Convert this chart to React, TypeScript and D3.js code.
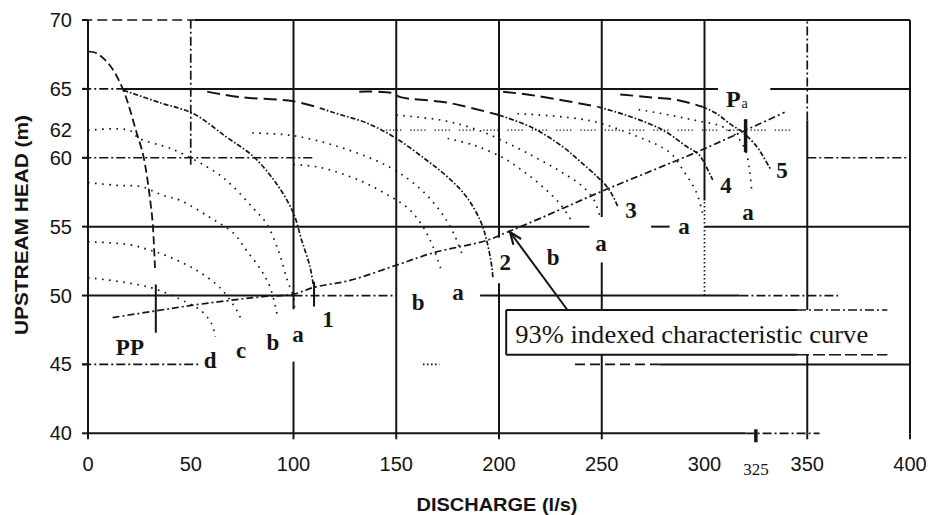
import React from "react";
import * as d3 from "d3";

// ---------- data (discharge l/s, head m) ----------
const xTickValues = [0, 50, 100, 150, 200, 250, 300, 350, 400];
const yTickValues = [40, 45, 50, 55, 60, 62, 65, 70];
const yTickLabels = ["40", "45", "50", "55", "60", "62", "65", "70"];

// main pump characteristic curves (upper long-dashed part, lower dash-dot part)
const curveSteep = [[0.5, 67.7], [4, 67.6], [10.7, 66.7], [17.2, 64.9], [23.7, 61.8], [27, 60.1], [31, 56], [31.8, 54.5], [32.6, 52]];
const curve1 = [[17.2, 64.9], [35, 64], [51.3, 63.2], [67.4, 61.5], [80.4, 60.1], [91.8, 58.1], [99.9, 56], [104, 54], [108, 52.1], [109.6, 50.8]];
const curve2Top = [[58, 64.8], [74, 64.4], [100, 64.1], [113, 63.6]];
const curve2 = [[113, 63.6], [119, 63.3], [136, 62.5], [150, 61.4], [165, 59.8], [175, 58.6], [184, 57.2], [191, 55.4], [194, 54], [196.5, 52.1], [197, 51.3]];
const curve3Top = [[132, 64.8], [148, 64.7], [152, 64.4], [175, 64], [200, 63.1]];
const curve3 = [[200, 63.1], [216, 62.2], [231, 60.8], [239, 59.8], [248, 58.6], [252.5, 57.9], [255.5, 57.2], [258, 56.4]];
const curve4Top = [[202, 64.8], [218, 64.5], [248, 63.7]];
const curve4 = [[248, 63.7], [263.7, 63], [279.8, 62], [291.5, 60.8], [296.8, 60.3], [299.3, 59.8], [302, 59], [304, 58.4]];
const curve5Top = [[259, 64.6], [273, 64.4], [286.6, 64.2], [299, 63.7]];
const curve5 = [[299, 63.7], [306, 63.2], [312, 62.5], [319, 61.8], [325.5, 60.8], [328.5, 60.1], [332, 59.2]];

// throttled (dotted) curves
const curve1a = [[0, 62], [20, 62], [25, 61.4], [41.5, 60.6], [62.6, 58.9], [70, 58], [80, 56.4], [87, 55.2], [93, 53.1], [97, 51.1], [100, 49.9], [100.5, 48.8]];
const curve1b = [[0, 58.2], [14, 58], [26, 57.9], [36, 57.3], [45, 56.9], [59, 55.7], [71, 54.5], [77, 53.3], [84, 51.9], [88.6, 50.6], [92.5, 48.3]];
const curve1c = [[0, 53.9], [20, 53.7], [30, 53.3], [38, 52.9], [52, 51.9], [64, 50.6], [72.5, 48.9], [75, 48.1]];
const curve1d = [[0, 51.3], [30, 50.6], [48, 49.5], [55, 48.9], [60, 48], [62, 47]];
const curve2a = [[80, 61.8], [100, 61.6], [124, 60.7], [147, 59.3], [162, 57.7], [172, 56], [178, 54.5], [182.5, 52.8]];
const curve2b = [[100, 59.5], [113, 59.3], [133, 58.3], [147, 57.2], [156, 56.3], [163, 55], [168, 53.5], [172, 51.8]];
const curve3a = [[150, 63.1], [173, 62.7], [190, 62], [205, 61], [218, 60], [230, 59], [240, 58], [246, 57], [249, 55.8]];
const curve3b = [[175, 61.4], [188, 60.9], [202, 60], [212, 59], [222, 57.8], [230, 56.6], [235, 55.5]];
const curve4a = [[209, 63.2], [244, 62.7], [268, 61.5], [283, 60.4], [290, 59], [296, 57.5], [299, 56]];
const curve5a = [[268, 63.5], [283, 63.1], [296, 62.7], [308, 62.3], [316, 61.5], [320, 60.5], [322, 59], [323, 57.5]];

// 93% indexed system characteristic
const systemCurve = [[12, 48.4], [33.5, 48.9], [51, 49.3], [83.7, 49.9], [100, 50.1], [110, 50.6], [127.5, 51.1], [150, 52.2], [168, 53.1], [194, 54], [204, 54.6], [220, 55.6], [249, 57.5], [296, 60.4], [320, 62], [339, 63.3]];

// gridline pieces: vertical [x, h1, h2, kind], horizontal [h, x1, x2, kind]
const vGrid = [
  [0, 40, 70, "solid"], [50, 59.5, 70, "dashdot"],
  [100, 49, 70, "solid"], [100, 40, 45.2, "solid"],
  [150, 40, 70, "solid"],
  [200, 54.2, 70, "solid"], [200, 40, 50.9, "solid"],
  [250, 55.7, 70, "solid"], [250, 40, 52.4, "solid"],
  [300, 56.9, 70, "solid"], [300, 50, 56.9, "dotted"],
  [350, 62.7, 70, "dashdot"], [350, 40, 62.7, "solid"],
  [400, 40, 70, "solid"],
];
const hGrid = [
  [70, -2.8, 52, "dash"], [70, 52, 400, "solid"],
  [65, -2.8, 17, "dashdot"], [65, 17, 306.6, "solid"], [65, 332, 400, "solid"],
  [62, 145, 343, "fine"],
  [60, -2.8, 110, "dashdot"], [60, 350, 400, "dashdot"],
  [55, 0, 244, "solid"], [55, 274, 283, "solid"], [55, 300, 400, "solid"],
  [50, 0, 100, "solid"], [50, 100, 150, "dashdot"], [50, 190.8, 317, "solid"], [50, 317, 365, "dashdot"],
  [45, -2.8, 55, "dashdot"], [45, 163, 171, "dotted"], [45, 237, 278, "dash"], [45, 278, 400, "solid"],
  [40, 0, 320, "solid"], [40, 320, 356, "dashdot"],
];
// small vertical marks on curves [x, h1, h2]
const curveTicks = [[33, 47.3, 50.8], [110, 49.2, 51], [320, 60.4, 62.8]];

const curveLabels = [
  ["PP", 20.4, 45.7], ["d", 59.4, 44.75], ["c", 74.5, 45.5], ["b", 90, 46.05], ["a", 102.2, 46.6], ["1", 116.8, 47.7],
  ["b", 160.6, 48.95], ["a", 180, 49.7], ["2", 203, 51.85], ["b", 226.3, 52.2], ["a", 249.6, 53.2], ["3", 264.2, 55.6],
  ["a", 290, 54.5], ["4", 310.5, 57.45], ["a", 321.2, 55.5], ["5", 337.7, 58.5],
];
const boxText = "93% indexed characteristic curve";
const boxX = [203.5, 389];
const boxH = [45.7, 48.95];
const arrowFrom = [233.3, 48.95];
const arrowTo = [205.4, 54.6];

const W = 930, H = 515;
const x = d3.scaleLinear().domain([0, 400]).range([88, 910]);
const y = d3.scaleLinear().domain([40, 70]).range([433.3, 20]);
const line = d3.line<number[]>().x((d) => x(d[0])).y((d) => y(d[1])).curve(d3.curveCatmullRom.alpha(0.5));

const INK = "#141414";
const SANS = "'Liberation Sans', Arial, sans-serif";
const SERIF = "'Liberation Serif', 'Times New Roman', serif";

const gridStyle: Record<string, any> = {
  solid: { strokeWidth: 2 },
  dashdot: { strokeWidth: 1.7, strokeDasharray: "9,3,2,3" },
  dash: { strokeWidth: 1.7, strokeDasharray: "10,5" },
  dotted: { strokeWidth: 1.7, strokeDasharray: "1.6,2.4" },
  fine: { strokeWidth: 1.3, strokeDasharray: "1.3,2.2,1.3,2.2,1.3,2.2,1.3,2.2,1.3,9" },
};

export default function App() {
  const mainStyle = { fill: "none", stroke: INK, strokeWidth: 1.7, strokeDasharray: "5,2,1.6,2" };
  const topStyle = { fill: "none", stroke: INK, strokeWidth: 2, strokeDasharray: "13,6" };
  const dotStyle = { fill: "none", stroke: INK, strokeWidth: 1.7, strokeDasharray: "1.6,5.5" };
  const dotted = [curve1a, curve1b, curve1c, curve1d, curve2a, curve2b, curve3a, curve3b, curve4a, curve5a];
  const mains = [curve1, curve2, curve3, curve4, curve5];
  const tops = [curve2Top, curve3Top, curve4Top, curve5Top];
  const ax = x(arrowFrom[0]), ay = y(arrowFrom[1]), bx = x(arrowTo[0]), by = y(arrowTo[1]);
  const ang = Math.atan2(by - ay, bx - ax);
  const ah = 13, aw = 0.38;
  const head = [
    [bx - ah * Math.cos(ang - aw), by - ah * Math.sin(ang - aw)],
    [bx, by],
    [bx - ah * Math.cos(ang + aw), by - ah * Math.sin(ang + aw)],
  ];
  return (
    <svg width={W} height={H} style={{ position: "fixed", left: 0, top: 0, display: "block", background: "#fff" }}>
      <rect width={W} height={H} fill="#fff" />
      {/* grid */}
      {vGrid.map((g, i) => (
        <line key={"v" + i} x1={x(g[0] as number)} x2={x(g[0] as number)} y1={y(g[1] as number)} y2={y(g[2] as number)} stroke={INK} {...gridStyle[g[3] as string]} />
      ))}
      {hGrid.map((g, i) => (
        <line key={"h" + i} y1={y(g[0] as number)} y2={y(g[0] as number)} x1={x(g[1] as number)} x2={x(g[2] as number)} stroke={INK} {...gridStyle[g[3] as string]} />
      ))}
      {/* axis ticks */}
      {yTickValues.filter((v) => v !== 62).map((v) => (
        <line key={"yt" + v} x1={x(0) - 6} x2={x(0)} y1={y(v)} y2={y(v)} stroke={INK} strokeWidth={2} />
      ))}
      {xTickValues.filter((v) => v !== 50 && v !== 300).map((v) => (
        <line key={"xt" + v} x1={x(v)} x2={x(v)} y1={y(40)} y2={y(40) + 6} stroke={INK} strokeWidth={2} />
      ))}
      <line x1={x(325)} x2={x(325)} y1={y(40) - 4} y2={y(40) + 9} stroke={INK} strokeWidth={3.5} />
      {/* curves */}
      {dotted.map((c, i) => <path key={"d" + i} d={line(c) || ""} {...dotStyle} />)}
      <path d={line(curveSteep) || ""} fill="none" stroke={INK} strokeWidth={1.8} strokeDasharray="8,4" />
      {mains.map((c, i) => <path key={"m" + i} d={line(c) || ""} {...mainStyle} />)}
      {tops.map((c, i) => <path key={"t" + i} d={line(c) || ""} {...topStyle} />)}
      <path d={line(systemCurve) || ""} fill="none" stroke={INK} strokeWidth={1.7} strokeDasharray="7,3,2,3" />
      {curveTicks.map((t, i) => (
        <line key={"ct" + i} x1={x(t[0])} x2={x(t[0])} y1={y(t[1])} y2={y(t[2])} stroke={INK} strokeWidth={i === 2 ? 3.5 : 2} />
      ))}
      {/* labels */}
      {curveLabels.map((l, i) => (
        <text key={"l" + i} x={x(l[1] as number)} y={y(l[2] as number)} textAnchor="middle" fontFamily={SERIF} fontWeight="bold" fontSize={23} fill={INK}>
          {l[0]}
        </text>
      ))}
      <text x={x(314)} y={y(63.7)} textAnchor="middle" fontFamily={SERIF} fontWeight="bold" fontSize={24} fill={INK}>P</text>
      <text x={x(318)} y={y(63.6)} fontFamily={SERIF} fontSize={14} fill={INK}>a</text>
      {/* annotation box */}
      <rect x={x(boxX[0])} y={y(boxH[1])} width={x(boxX[1]) - x(boxX[0])} height={y(boxH[0]) - y(boxH[1])} fill="#fff" stroke="none" />
      <line x1={x(boxX[0])} x2={x(boxX[0])} y1={y(boxH[1])} y2={y(boxH[0])} stroke={INK} strokeWidth={2} />
      <line x1={x(boxX[0])} x2={x(345)} y1={y(boxH[1])} y2={y(boxH[1])} stroke={INK} strokeWidth={2} />
      <line x1={x(345)} x2={x(boxX[1])} y1={y(boxH[1])} y2={y(boxH[1])} stroke={INK} strokeWidth={1.7} strokeDasharray="9,3,2,3" />
      <line x1={x(boxX[0])} x2={x(345)} y1={y(boxH[0])} y2={y(boxH[0])} stroke={INK} strokeWidth={2} />
      <line x1={x(345)} x2={x(boxX[1])} y1={y(boxH[0])} y2={y(boxH[0])} stroke={INK} strokeWidth={1.7} strokeDasharray="12,4" />
      <text x={x(boxX[0]) + 9} y={y(boxH[0]) - 12} fontFamily={SERIF} fontSize={26} fill={INK} textLength={353} lengthAdjust="spacingAndGlyphs">
        {boxText}
      </text>
      {/* arrow */}
      <line x1={ax} y1={ay} x2={bx} y2={by} stroke={INK} strokeWidth={2} />
      <polyline points={head.map((p) => p.join(",")).join(" ")} fill="none" stroke={INK} strokeWidth={2.2} />
      {/* tick labels */}
      {yTickValues.map((v, i) => (
        <text key={"yl" + v} x={72} y={y(v) + 7} textAnchor="end" fontFamily={SANS} fontSize={20} fill={INK}>
          {yTickLabels[i]}
        </text>
      ))}
      {xTickValues.map((v) => (
        <text key={"xl" + v} x={x(v)} y={471} textAnchor="middle" fontFamily={SANS} fontSize={20} fill={INK}>
          {v}
        </text>
      ))}
      <text x={x(325)} y={475} textAnchor="middle" fontFamily={SERIF} fontSize={17} fill={INK}>325</text>
      {/* axis titles */}
      <text x={497} y={511} textAnchor="middle" fontFamily={SANS} fontWeight="bold" fontSize={19} fill={INK} textLength={161} lengthAdjust="spacingAndGlyphs">
        DISCHARGE (l/s)
      </text>
      <text transform="translate(28,225) rotate(-90)" textAnchor="middle" fontFamily={SANS} fontWeight="bold" fontSize={19} fill={INK} textLength={220} lengthAdjust="spacingAndGlyphs">
        UPSTREAM HEAD (m)
      </text>
    </svg>
  );
}
